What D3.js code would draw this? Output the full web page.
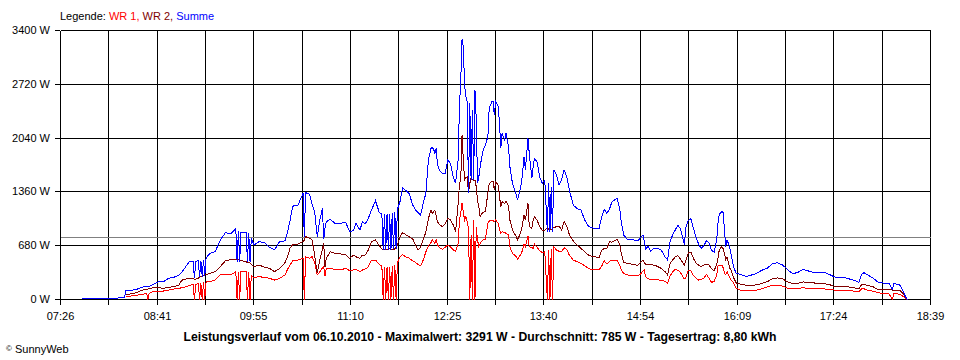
<!DOCTYPE html>
<html><head><meta charset="utf-8">
<script src="https://cdn.jsdelivr.net/npm/d3@7"></script>
<style>
html,body{margin:0;padding:0;background:#fff;}
svg{display:block;font-family:"Liberation Sans",Arial,sans-serif;}
</style></head><body>
<svg id="chart" width="960" height="360"></svg>
<script>
// ---- data ----
const times = ["07:43","07:50","07:58","08:01","08:02","08:11","08:12","08:16","08:17","08:21","08:25","08:29","08:32","08:33","08:34","08:35","08:38","08:42","08:46","08:50","08:54","08:58","09:00","09:02","09:06","09:09","09:10","09:11","09:13","09:14","09:15","09:16","09:17","09:18","09:19","09:22","09:26","09:30","09:34","09:38","09:42","09:43","09:44","09:45","09:46","09:50","09:51","09:52","09:53","09:54","09:56","10:00","10:04","10:08","10:12","10:16","10:20","10:22","10:24","10:26","10:30","10:34","10:35","10:36","10:39","10:41","10:43","10:45","10:47","10:49","10:50","10:51","10:52","10:55","10:59","11:03","11:07","11:10","11:13","11:15","11:18","11:20","11:22","11:24","11:27","11:30","11:33","11:35","11:36","11:37","11:38","11:39","11:40","11:41","11:42","11:43","11:44","11:45","11:46","11:47","11:49","11:51","11:53","11:56","11:59","12:01","12:03","12:05","12:07","12:09","12:11","12:13","12:14","12:15","12:16","12:17","12:18","12:20","12:22","12:24","12:26","12:28","12:30","12:32","12:34","12:35","12:36","12:37","12:38","12:39","12:40","12:41","12:42","12:43","12:44","12:45","12:46","12:47","12:48","12:49","12:50","12:51","12:53","12:55","12:57","12:58","13:00","13:01","13:02","13:03","13:05","13:06","13:07","13:08","13:10","13:11","13:13","13:14","13:16","13:19","13:20","13:23","13:25","13:26","13:28","13:29","13:31","13:32","13:33","13:35","13:37","13:39","13:41","13:43","13:44","13:45","13:46","13:47","13:48","13:50","13:52","13:54","13:56","13:58","14:00","14:03","14:06","14:09","14:12","14:15","14:19","14:23","14:25","14:27","14:29","14:31","14:33","14:35","14:37","14:39","14:40","14:42","14:45","14:49","14:53","14:55","14:57","14:58","14:59","15:01","15:03","15:05","15:08","15:11","15:14","15:16","15:18","15:20","15:22","15:24","15:26","15:28","15:29","15:30","15:32","15:34","15:36","15:38","15:40","15:42","15:44","15:46","15:48","15:50","15:52","15:54","15:55","15:56","15:58","15:59","16:00","16:01","16:02","16:04","16:05","16:07","16:09","16:13","16:17","16:21","16:25","16:29","16:33","16:37","16:41","16:45","16:49","16:53","16:57","17:01","17:05","17:09","17:13","17:17","17:21","17:25","17:29","17:33","17:37","17:41","17:44","17:46","17:48","17:51","17:55","17:59","18:03","18:07","18:10","18:11","18:14","18:16","18:18","18:20","18:21","18:22"];

const summe = [8,8,8,8,18,18,25,25,118,116,125,155,162,162,162,165,192,225,225,268,280,310,340,385,478,478,270,480,490,280,490,290,505,300,525,584,604,752,845,830,895,480,860,480,850,845,480,840,480,777,689,731,720,660,626,735,740,850,1000,1180,1190,1340,790,1350,1333,1200,1110,794,1005,1152,760,900,983,1013,960,963,975,857,870,963,878,983,954,1005,1131,1249,1100,1080,626,1080,626,1080,626,1085,626,1090,640,1100,640,1140,1236,1413,1384,1342,1190,1131,1100,1068,1216,1342,1763,1911,1922,1900,1848,1911,1700,1620,1595,1595,1763,1721,1560,1468,1763,2437,2774,3291,3195,2700,2560,2500,1342,2480,1510,2400,1510,2648,2269,1468,1550,1679,1870,1950,2058,2417,2500,2500,2332,2500,2437,2227,1911,2100,2016,2100,1932,1679,1468,1321,1258,1468,1805,1637,2037,1848,1532,1679,1784,1742,1552,1468,1510,857,1468,857,1426,857,1637,1574,1450,1510,1637,1552,1384,1194,1150,1131,1000,920,900,900,1040,1140,1089,1140,1236,1258,1279,1150,1005,815,758,758,740,780,815,740,640,670,610,640,647,626,541,499,740,820,880,942,890,760,689,900,1000,1020,900,790,700,647,680,740,720,620,600,750,963,1080,1110,1100,878,667,752,667,584,415,331,315,290,310,331,370,394,449,465,436,375,325,345,380,360,340,345,345,318,285,280,275,258,240,215,320,339,310,270,215,208,208,130,206,190,180,110,40,10,0];

const wr2 = [null,null,null,null,null,null,null,null,66,70,85,115,125,130,133,135,150,150,141,154,162,183,240,255,268,262,255,258,270,288,290,292,300,310,312,331,352,415,490,505,508,505,500,499,495,475,470,465,460,440,415,436,410,394,352,394,465,540,650,695,701,731,750,794,777,752,560,330,499,640,710,415,520,604,584,575,563,520,560,540,520,562,562,610,731,752,680,640,626,626,626,626,640,647,640,630,626,640,660,690,794,845,824,794,760,689,630,660,760,850,1026,1131,1089,1110,1131,1060,980,942,920,960,1026,1005,950,860,1216,1460,1510,2079,1763,1510,1540,1552,1342,1468,1532,1520,1510,1510,1426,1250,1173,1047,1100,1110,1342,1468,1489,1489,1384,1485,1447,1300,1173,1236,1215,1249,1173,1005,878,794,752,878,1068,1005,1216,920,900,1000,1047,1005,920,878,878,900,890,880,878,900,910,920,930,878,983,930,820,740,689,647,600,560,540,533,620,647,640,731,725,745,761,700,600,470,455,445,430,470,499,470,440,445,440,436,420,394,352,310,460,500,541,555,510,460,436,490,590,600,520,460,436,415,435,445,435,390,360,450,520,630,667,640,584,499,541,400,373,280,210,190,180,180,185,204,225,260,272,262,220,200,204,222,210,210,200,200,190,165,168,168,155,145,137,185,195,175,162,122,122,122,120,120,118,112,78,25,5,0];

const wr1 = [null,null,null,null,null,null,null,null,38,44,52,64,72,75,0,80,99,99,107,120,133,141,148,154,175,190,0,192,200,0,204,0,215,0,225,225,246,310,322,310,352,0,352,0,352,352,0,352,0,300,280,288,280,268,246,268,310,380,436,490,499,520,0,541,520,541,470,310,352,400,415,297,394,394,380,373,394,364,375,381,352,373,385,400,499,499,445,420,0,415,0,415,0,415,0,420,0,440,0,460,541,571,541,525,485,470,440,430,499,600,680,720,752,730,710,752,690,647,634,660,689,667,630,604,710,1005,1089,1216,1100,1005,1047,983,900,0,815,0,1005,0,920,750,667,710,752,760,963,990,1005,995,984,1005,963,880,837,857,845,837,815,667,584,541,508,584,701,667,802,667,655,647,701,660,620,592,604,0,620,0,640,0,667,626,610,604,655,630,560,500,478,457,425,390,373,373,420,490,450,480,499,499,499,430,380,330,310,305,300,320,360,373,290,260,255,255,250,242,230,204,300,350,381,370,340,280,260,270,364,360,300,270,246,255,265,318,270,215,230,300,420,436,436,400,331,310,352,280,250,213,141,115,111,116,120,135,160,178,180,170,141,141,141,150,138,138,138,135,122,120,116,115,111,105,100,135,135,114,105,85,78,76,0,74,70,62,40,15,5,0];

const xTickLabels = ["07:26","08:41","09:55","11:10","12:25","13:40","14:54","16:09","17:24","18:39"];
const yTicks = [0,680,1360,2040,2720,3400];
const average = 785;
const legendItems = [{name:"WR 1", color:"#ff0000"},{name:"WR 2", color:"#800000"},{name:"Summe", color:"#0000ff"}];
const titleText = "Leistungsverlauf vom 06.10.2010 - Maximalwert: 3291 W - Durchschnitt: 785 W - Tagesertrag: 8,80 kWh";

// ---- chart ----
const toMin = s => { const p = s.split(":").map(Number); return p[0]*60 + p[1]; };
const t0 = toMin(xTickLabels[0]), t1 = toMin(xTickLabels[xTickLabels.length-1]);
const svg = d3.select("#chart");
const x = d3.scaleLinear().domain([t0, t1]).range([60, 930]);
const y = d3.scaleLinear().domain([0, 3400]).range([299, 30]);

const nGrid = (xTickLabels.length - 1) * 2;
const gridTicks = d3.range(nGrid + 1).map(i => t0 + i * (t1 - t0) / nGrid);

// grid
const grid = svg.append("g").attr("shape-rendering","crispEdges").attr("stroke","#000").attr("stroke-width",1);
grid.selectAll("line.v").data(gridTicks).join("line")
  .attr("x1", d => Math.round(x(d)) + 0.5).attr("x2", d => Math.round(x(d)) + 0.5)
  .attr("y1", y(3400) + 0.5).attr("y2", y(0) + 0.5);
grid.selectAll("line.h").data(yTicks).join("line")
  .attr("x1", 60.5).attr("x2", 930.5)
  .attr("y1", d => y(d) + 0.5).attr("y2", d => y(d) + 0.5);

// average line
svg.append("line").attr("shape-rendering","crispEdges")
  .attr("x1", 60.5).attr("x2", 930.5)
  .attr("y1", Math.round(y(average)) + 0.5).attr("y2", Math.round(y(average)) + 0.5)
  .attr("stroke", "#808080").attr("stroke-width", 1);

// axes
const xAxis = d3.axisBottom(x).tickValues(gridTicks)
  .tickFormat((d, i) => i % 2 === 0 ? xTickLabels[i/2] : "")
  .tickSizeInner(6).tickSizeOuter(0).tickPadding(7);
const gx = svg.append("g").attr("transform", `translate(0,${y(0)})`).attr("shape-rendering","crispEdges").call(xAxis);
gx.select(".domain").remove();
gx.selectAll("line").attr("stroke","#000").attr("transform", function(){ return null; });
gx.selectAll(".tick").attr("transform", d => `translate(${Math.round(x(d)) + 0.5},0)`);
gx.selectAll("text").attr("font-size", 11).attr("fill","#000").attr("font-family",'"Liberation Sans",Arial,sans-serif');

const yAxis = d3.axisLeft(y).tickValues(yTicks).tickFormat(d => d + " W")
  .tickSizeInner(5).tickSizeOuter(0).tickPadding(5);
const gy = svg.append("g").attr("transform", "translate(60,0)").attr("shape-rendering","crispEdges").call(yAxis);
gy.select(".domain").remove();
gy.selectAll("line").attr("stroke","#000");
gy.selectAll("text").attr("font-size", 11).attr("fill","#000").attr("font-family",'"Liberation Sans",Arial,sans-serif');

// series
const mk = vals => times.map((t, i) => ({t: toMin(t), v: vals[i]}));
const line = d3.line().defined(d => d.v != null).x(d => x(d.t)).y(d => y(d.v) + 0.5);
const series = [
  {vals: wr1, color: legendItems[0].color},
  {vals: wr2, color: legendItems[1].color},
  {vals: summe, color: legendItems[2].color}
];
svg.append("g").selectAll("path").data(series).join("path")
  .attr("d", s => line(mk(s.vals)))
  .attr("fill","none").attr("stroke", s => s.color).attr("stroke-width", 1)
  .attr("stroke-linejoin","miter").attr("shape-rendering","crispEdges");

// legend
const lg = svg.append("text").attr("x", 60).attr("y", 20).attr("font-size", 11).attr("fill","#000");
lg.append("tspan").text("Legende: ");
legendItems.forEach((it, i) => {
  lg.append("tspan").attr("fill", it.color).text(it.name + (i < legendItems.length - 1 ? ", " : ""));
});

// title
svg.append("text").attr("x", 480).attr("y", 341).attr("text-anchor","middle")
  .attr("font-size", 12).attr("font-weight","bold").attr("fill","#000")
  .attr("textLength", 593).attr("lengthAdjust","spacingAndGlyphs")
  .text(titleText);

// copyright
const cp = svg.append("text").attr("x", 6).attr("y", 353).attr("font-size", 11).attr("fill","#000");
cp.append("tspan").attr("font-size", 8).attr("dy", -2).text("©");
cp.append("tspan").attr("dy", 2).text(" SunnyWeb");
</script>
</body></html>
